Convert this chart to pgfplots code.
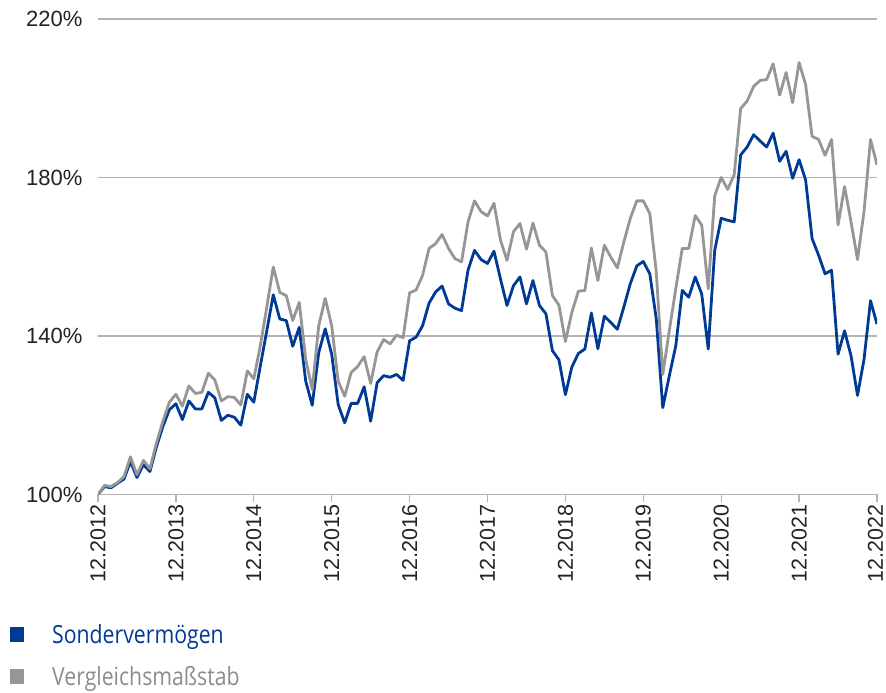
\documentclass[border=0pt]{standalone}
\usepackage{fontspec}
\setmainfont{Liberation Sans}
\newfontfamily\legfont[FakeStretch=0.85]{Open Sans}
\usepackage{pgfplots}
\usepackage{pgfplotstable}
\pgfplotsset{compat=1.18}
\definecolor{fundblue}{RGB}{0,58,148}
\definecolor{benchgray}{RGB}{150,150,150}
\definecolor{leggray}{RGB}{140,140,140}
\definecolor{gridgray}{RGB}{180,180,180}
\definecolor{ticktext}{RGB}{35,35,35}

\pgfplotstableread{
m fund bench
0 100 100
1 102 102.3
2 101.7 102
3 102.8 103
4 103.9 104.5
5 108.3 109.5
6 104.3 105
7 107.5 108.6
8 105.8 106.5
9 112 113
10 117.2 118.5
11 121.4 123.3
12 122.9 125.3
13 118.9 122.3
14 123.6 127.4
15 121.6 125.5
16 121.6 125.8
17 125.8 130.6
18 124.4 128.9
19 118.7 123.6
20 120 124.7
21 119.5 124.5
22 117.5 122.6
23 125.3 131.2
24 123.3 129.2
25 132.4 137.5
26 141.3 147.3
27 150.4 157.4
28 144.3 151
29 143.9 150.2
30 137.4 143.9
31 142.2 148.5
32 128.6 134.1
33 122.5 126.5
34 135.8 142.6
35 141.8 149.5
36 135.4 142.6
37 122.7 128.6
38 118.1 124.8
39 123 130.8
40 123 132.3
41 127.2 134.8
42 118.5 128
43 128.2 136
44 130 139.1
45 129.6 138
46 130.3 140.2
47 128.8 139.6
48 138.8 150.9
49 139.7 151.6
50 142.6 155.3
51 148.3 162.1
52 151.1 163.3
53 152.6 165.6
54 148.1 162.1
55 147 159.5
56 146.4 158.7
57 156.6 168.8
58 161.6 174.1
59 159.3 171.4
60 158.3 170.3
61 161.4 173.5
62 154.4 164.2
63 147.7 159.1
64 152.7 166.3
65 154.9 168.4
66 148.1 161.9
67 154 168.5
68 147.7 162.9
69 145.6 161.2
70 136.3 150.2
71 134 147.8
72 125.2 138.6
73 132.2 146
74 135.6 151.3
75 136.7 151.5
76 145.8 162.2
77 136.8 154
78 145 162.9
79 143.4 159.9
80 141.7 157.2
81 147.3 163.7
82 153.2 169.7
83 157.7 174.1
84 158.8 174.1
85 155.7 170.9
86 144.3 156.1
87 121.9 130.3
88 129.9 141.3
89 137.5 151.9
90 151.5 162.1
91 149.8 162.1
92 154.9 170.4
93 150.6 168
94 136.7 151.9
95 161.6 175.4
96 169.7 180
97 169.2 177
98 168.8 180.7
99 185.7 197.4
100 187.7 199.3
101 190.8 203
102 189.2 204.5
103 187.7 204.7
104 191.2 208.7
105 184.1 200.8
106 186.6 206.5
107 179.8 198.9
108 184.5 209
109 179.4 203.5
110 164.6 190.4
111 160.4 189.6
112 155.7 185.6
113 156.6 189.6
114 135.4 168
115 141.3 177.7
116 135 168.8
117 125 159.3
118 134.1 171.4
119 148.9 189.6
120 143 183.2
}\perfdata

\begin{document}
\begin{tikzpicture}[x=1pt,y=1pt]
\path[use as bounding box] (0,0) rectangle (886,693);
\begin{axis}[
  at={(98pt,198.5pt)}, anchor=south west,
  scale only axis, width=779pt, height=475.5pt,
  xmin=0, xmax=120, ymin=100, ymax=220,
  axis x line*=bottom, axis y line*=left,
  y axis line style={draw=none},
  x axis line style={draw=gridgray, line width=1.3pt},
  xtick={0,12,24,36,48,60,72,84,96,108,120},
  xticklabels={12.2012,12.2013,12.2014,12.2015,12.2016,12.2017,12.2018,12.2019,12.2020,12.2021,{\raisebox{1.5pt}[\height][\depth]{12.2022}}},
  ytick={100,140,180,220},
  yticklabels={100\%,140\%,180\%,220\%},
  tick align=outside,
  major tick length=8pt,
  xtick style={draw=gridgray, line width=1.3pt},
  ytick style={draw=none},
  ymajorgrids,
  grid style={draw=gridgray, line width=1.3pt},
  xticklabel style={rotate=90, anchor=east, inner xsep=2pt, inner ysep=0pt, font=\fontsize{21.5}{26}\selectfont, text=ticktext},
  yticklabel style={font=\fontsize{22}{26}\selectfont, text=ticktext, xshift=-4pt},
  legend style={at={(-0.113,-0.268)}, anchor=north west, draw=none, fill=none,
    inner sep=0pt, row sep=18pt,
    font=\legfont\fontsize{25}{30}\selectfont,
    cells={anchor=west},
    /tikz/every odd column/.style={column sep=26pt}},
  legend image code/.code={\fill[#1,draw=none] (1pt,-7.5pt) rectangle (15pt,7.5pt);},
]
\addplot[fundblue, line width=2.8pt, line join=round] table[x=m, y=fund] {\perfdata};
\addlegendentry{\textcolor{fundblue}{Sondervermögen}}
\addplot[benchgray, line width=2.8pt, line join=round] table[x=m, y=bench] {\perfdata};
\addlegendentry{\textcolor{leggray}{Vergleichsmaßstab}}
\end{axis}
\end{tikzpicture}
\end{document}
